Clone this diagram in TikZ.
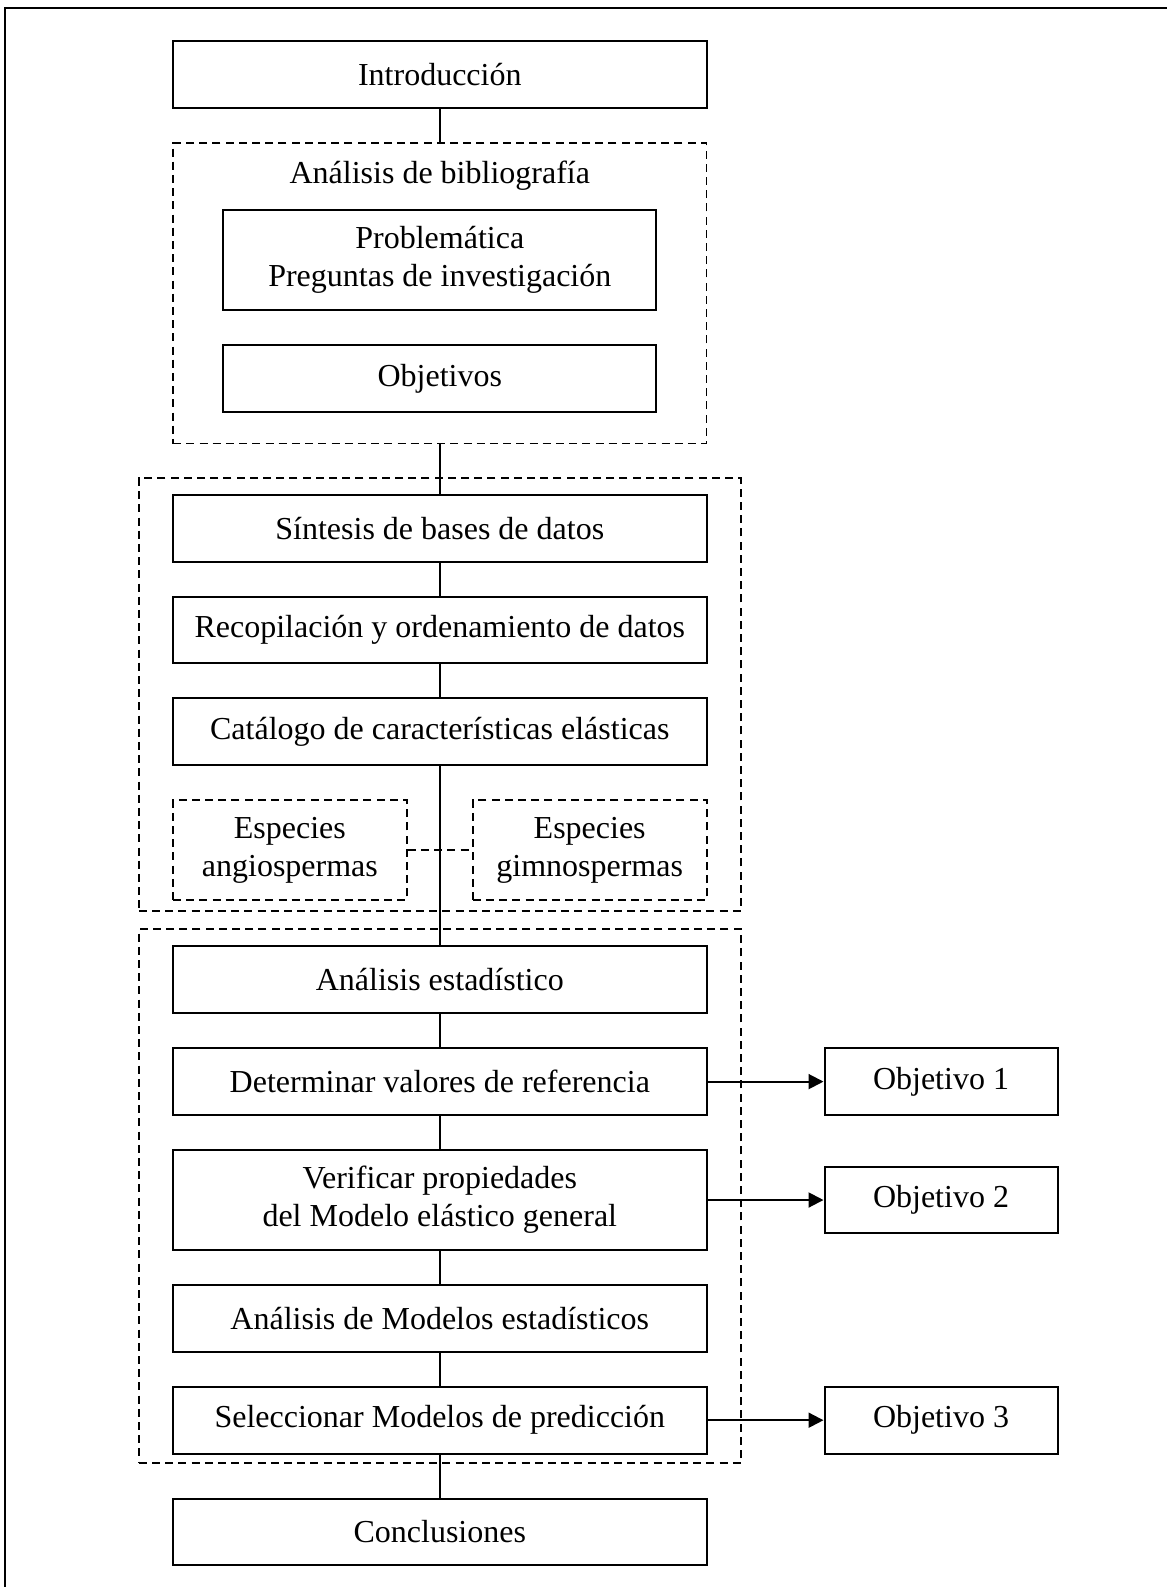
\documentclass[tikz,border=0pt]{standalone}
\usepackage{fontspec}
\setmainfont{Liberation Serif}
\usepackage{tikz}
\usetikzlibrary{arrows.meta,positioning,calc}

\begin{document}
\begin{tikzpicture}[
  node distance=16.5pt and 58pt,
  box/.style={draw, line width=1pt, align=center, minimum width=266.7pt, minimum height=33.4pt, inner sep=2pt, font=\fontsize{16}{19}\selectfont},
  tallbox/.style={box, minimum height=50pt},
  inbox/.style={box, minimum width=216.5pt},
  objbox/.style={box, minimum width=116.5pt},
  grp/.style={draw, line width=0.8pt, dash pattern=on 4pt off 2.6pt, inner sep=0pt, minimum width=301pt},
  spbox/.style={draw, line width=0.8pt, dash pattern=on 4pt off 2.6pt, align=center, minimum width=117pt, minimum height=50pt, inner sep=2pt, font=\fontsize{16}{19}\selectfont},
  lnk/.style={line width=0.8pt},
  arr/.style={-{Triangle[length=7.5pt,width=7.5pt]}, line width=1pt}
]
  \useasboundingbox (0,0) rectangle (583.5pt,-793.5pt);
  \draw[line width=1pt] (2.5pt,-793.5pt) |- (583.5pt,-3.75pt);

  \node[box] (intro) at (219.9pt,-37.4pt) {Introducción};

  % revision de la literatura
  \node[grp, minimum width=266.7pt, minimum height=150.25pt, below=of intro] (biblio) {};
  \node[font=\fontsize{16}{19}\selectfont] (titulo) at ($(biblio.north)+(0,-16.5pt)$) {Análisis de bibliografía};
  \node[inbox, minimum height=50pt, below=33.5pt of biblio.north] (prob) {Problemática\\Preguntas de investigación};
  \node[inbox, below=of prob] (obj) {Objetivos};

  % bases de datos
  \node[grp, minimum height=216.5pt, below=of biblio] (datos) {};
  \node[box, below=8.25pt of datos.north] (sint) {Síntesis de bases de datos};
  \node[box, below=of sint] (recop) {Recopilación y ordenamiento de datos};
  \node[box, below=of recop] (cat) {Catálogo de características elásticas};
  \node[spbox, below right=16.5pt and 0pt of cat.south west] (angio) {Especies\\angiospermas};
  \node[spbox, below left=16.5pt and 0pt of cat.south east] (gimno) {Especies\\gimnospermas};

  % estadistica
  \node[grp, minimum height=267pt, below=8.25pt of datos] (estad) {};
  \node[box, below=8.5pt of estad.north] (aest) {Análisis estadístico};
  \node[box, below=of aest] (deter) {Determinar valores de referencia};
  \node[tallbox, below=of deter] (verif) {Verificar propiedades\\del Modelo elástico general};
  \node[box, below=of verif] (amod) {Análisis de Modelos estadísticos};
  \node[box, below=of amod] (selec) {Seleccionar Modelos de predicción};

  \node[box, below=16.8pt of estad] (concl) {Conclusiones};

  \node[objbox, right=of deter] (obj1) {Objetivo 1};
  \node[objbox, right=of verif] (obj2) {Objetivo 2};
  \node[objbox, right=of selec] (obj3) {Objetivo 3};

  \draw[lnk] (intro) -- (biblio);
  \draw[lnk] (biblio) -- (sint);
  \draw[lnk] (sint) -- (recop);
  \draw[lnk] (recop) -- (cat);
  \draw[lnk] (cat) -- (aest);
  \draw[lnk, dash pattern=on 4pt off 2.6pt] (angio) -- (gimno);
  \draw[lnk] (aest) -- (deter);
  \draw[lnk] (deter) -- (verif);
  \draw[lnk] (verif) -- (amod);
  \draw[lnk] (amod) -- (selec);
  \draw[lnk] (selec) -- (concl);

  \draw[arr] (deter) -- (obj1);
  \draw[arr] (verif) -- (obj2);
  \draw[arr] (selec) -- (obj3);
\end{tikzpicture}
\end{document}
